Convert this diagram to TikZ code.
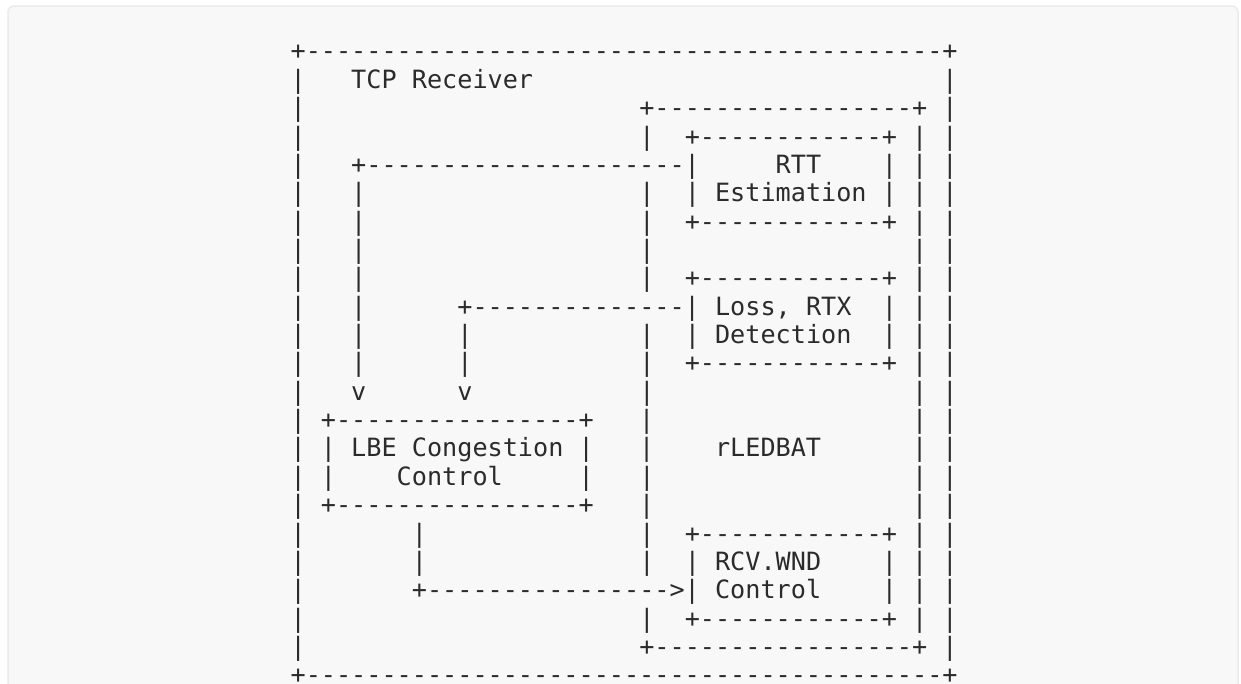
\documentclass[tikz,border=0pt]{standalone}
\usepackage{fontspec}
\setmonofont{DejaVu Sans Mono}
\usepackage{tikz}
\usetikzlibrary{positioning}

\definecolor{ink}{HTML}{2B2B2B}
\definecolor{panel}{HTML}{F8F8F8}
\definecolor{panelrim}{HTML}{EBEBEB}

\newcommand{\gap}[1]{\foreach \i in {1,...,#1}{\ }}
\newcommand{\dashes}[1]{\foreach \i in {1,...,#1}{-}}

\tikzset{row/.style={anchor=base west, inner sep=0pt, text=ink,
         font=\ttfamily\frenchspacing\fontsize{25.18}{28.36}\selectfont}}

\begin{document}
\begin{tikzpicture}[x=1pt, y=-1pt]
    \useasboundingbox[fill=white] (0,0) rectangle (1241,683);
    \draw[panelrim, fill=panel, line width=1.5pt, rounded corners=6pt]
    (8,6) rectangle (1238,700);

    \node[row] (r1) at (290.4,59.9) {+\dashes{42}+};
    \node[row] (r2) at (290.4,88.3) {|\gap{3}TCP Receiver\gap{27}|};
    \node[row] (r3) at (290.4,116.6) {|\gap{22}+\dashes{17}+ |};
    \node[row] (r4) at (290.4,145.0) {|\gap{22}|\gap{2}+\dashes{12}+ | |};
    \node[row] (r5) at (290.4,173.3) {|\gap{3}+\dashes{21}|\gap{5}RTT\gap{4}| | |};
    \node[row] (r6) at (290.4,201.7) {|\gap{3}|\gap{18}|\gap{2}| Estimation | | |};
    \node[row] (r7) at (290.4,230.1) {|\gap{3}|\gap{18}|\gap{2}+\dashes{12}+ | |};
    \node[row] (r8) at (290.4,258.4) {|\gap{3}|\gap{18}|\gap{17}| |};
    \node[row] (r9) at (290.4,286.8) {|\gap{3}|\gap{18}|\gap{2}+\dashes{12}+ | |};
    \node[row] (r10) at (290.4,315.1) {|\gap{3}|\gap{6}+\dashes{14}| Loss, RTX\gap{2}| | |};
    \node[row] (r11) at (290.4,343.5) {|\gap{3}|\gap{6}|\gap{11}|\gap{2}| Detection\gap{2}| | |};
    \node[row] (r12) at (290.4,371.9) {|\gap{3}|\gap{6}|\gap{11}|\gap{2}+\dashes{12}+ | |};
    \node[row] (r13) at (290.4,400.2) {|\gap{3}v\gap{6}v\gap{11}|\gap{17}| |};
    \node[row] (r14) at (290.4,428.6) {| +\dashes{16}+\gap{3}|\gap{17}| |};
    \node[row] (r15) at (290.4,456.9) {| | LBE Congestion |\gap{3}|\gap{4}rLEDBAT\gap{6}| |};
    \node[row] (r16) at (290.4,485.3) {| |\gap{4}Control\gap{5}|\gap{3}|\gap{17}| |};
    \node[row] (r17) at (290.4,513.7) {| +\dashes{16}+\gap{3}|\gap{17}| |};
    \node[row] (r18) at (290.4,542.0) {|\gap{7}|\gap{14}|\gap{2}+\dashes{12}+ | |};
    \node[row] (r19) at (290.4,570.4) {|\gap{7}|\gap{14}|\gap{2}| RCV.WND\gap{4}| | |};
    \node[row] (r20) at (290.4,598.7) {|\gap{7}+\dashes{16}>| Control\gap{4}| | |};
    \node[row] (r21) at (290.4,627.1) {|\gap{22}|\gap{2}+\dashes{12}+ | |};
    \node[row] (r22) at (290.4,655.5) {|\gap{22}+\dashes{17}+ |};
    \node[row] (r23) at (290.4,683.8) {+\dashes{42}+};
\end{tikzpicture}
\end{document}
